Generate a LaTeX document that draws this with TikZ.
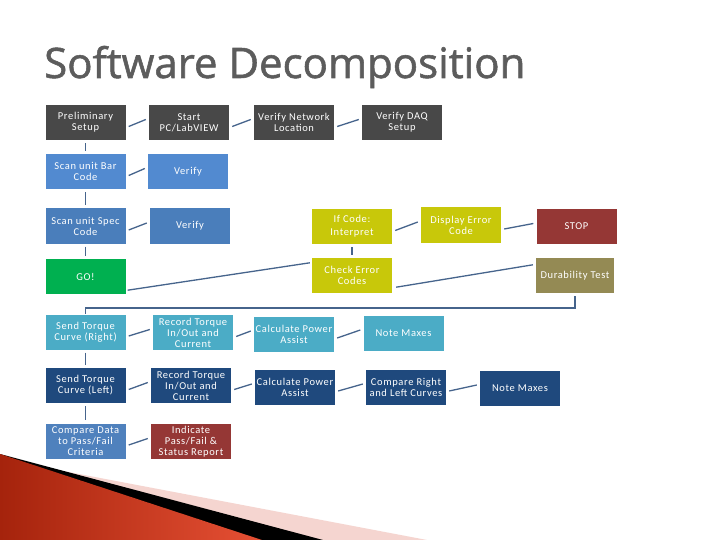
\documentclass[tikz,border=0pt]{standalone}
\usepackage{fontspec}
\setmainfont{Carlito}
\newfontfamily\titlefont[FakeBold=1.3]{Open Sans}
\newfontfamily\boxfont[LetterSpace=6]{Carlito}
\definecolor{cgray}{RGB}{72,72,72}
\definecolor{cblueA}{RGB}{82,138,208}
\definecolor{cblueB}{RGB}{74,126,187}
\definecolor{cyel}{RGB}{200,200,10}
\definecolor{cred}{RGB}{149,55,53}
\definecolor{cgreen}{RGB}{0,176,80}
\definecolor{colive}{RGB}{148,138,84}
\definecolor{cteal}{RGB}{75,172,198}
\definecolor{cnavy}{RGB}{31,73,125}
\definecolor{cblueC}{RGB}{79,129,189}
\definecolor{cline}{RGB}{70,100,140}
\definecolor{ttl}{RGB}{92,92,92}
\definecolor{cpink}{RGB}{245,213,208}
\definecolor{credL}{RGB}{165,35,12}
\definecolor{credR}{RGB}{230,80,52}
\tikzset{
  box/.style={draw=none, text=white, minimum width=80pt, minimum height=35pt,
    inner sep=1pt, align=center, font=\boxfont\fontsize{10.5}{11}\selectfont},
  conn/.style={draw=cline, line width=1.3pt},
}
\newcommand\jn[2]{\draw[conn] ([shift={(3,4)}]#1.east) -- ([shift={(-3,-3)}]#2.west);}
\newcommand\vj[2]{\draw[conn, shorten <=3pt, shorten >=3pt] (#1.south) -- (#2.north);}
\begin{document}
\begin{tikzpicture}[x=1pt,y=-1pt]
\useasboundingbox (0,0) rectangle (720,540);
\fill[white] (0,0) rectangle (720,540);
% bottom decoration
\fill[cpink] (0,459) -- (427,540) -- (0,540) -- cycle;
\fill[black] (0,454) -- (323,540) -- (0,540) -- cycle;
\shade[left color=credL, right color=credR] (0,454) -- (262,540) -- (0,540) -- cycle;
% title
\node[anchor=base west, inner sep=0, text=ttl, font=\titlefont\fontsize{42}{44}\selectfont] (title) at (44,78) {Software Decomposition};
% row 1
\node[box, fill=cgray] (prel) at (85.5,122.5) {Preliminary\\Setup};
\node[box, fill=cgray] (start) at (189,122.5) {Start\\PC/LabVIEW};
\node[box, fill=cgray] (vnet) at (294,122.5) {Verify Network\\Location};
\node[box, fill=cgray] (vdaq) at (402,122.5) {Verify DAQ\\Setup};
% row 2
\node[box, fill=cblueA] (sbar) at (85.5,171.5) {Scan unit Bar\\Code};
\node[box, fill=cblueA] (ver1) at (188,171.5) {Verify};
% row 3
\node[box, fill=cblueB] (sspec) at (85.5,226) {Scan unit Spec\\Code};
\node[box, fill=cblueB] (ver2) at (190,226) {Verify};
\node[box, fill=cyel] (ifc) at (352,226.5) {If Code:\\[2pt]Interpret};
\node[box, fill=cyel] (derr) at (461,225) {Display Error\\Code};
\node[box, fill=cred] (stop) at (576.5,226.5) {STOP};
% row 4
\node[box, fill=cgreen] (go) at (85.5,276.5) {GO!};
\node[box, fill=cyel] (cerr) at (352,275.5) {Check Error\\Codes};
\node[box, fill=colive, minimum width=78pt] (dura) at (575,275.5) {Durability Test};
% row 5
\node[box, fill=cteal] (sendR) at (85.5,332) {Send Torque\\Curve (Right)};
\node[box, fill=cteal] (recR) at (193,332.5) {Record Torque\\In/Out and\\Current};
\node[box, fill=cteal] (calcR) at (294,334) {Calculate Power\\Assist};
\node[box, fill=cteal] (noteR) at (403.5,333) {Note Maxes};
% row 6
\node[box, fill=cnavy] (sendL) at (85.5,385.5) {Send Torque\\Curve (Left)};
\node[box, fill=cnavy] (recL) at (191,385.5) {Record Torque\\In/Out and\\Current};
\node[box, fill=cnavy] (calcL) at (295,387) {Calculate Power\\Assist};
\node[box, fill=cnavy] (cmpRL) at (406,387) {Compare Right\\and Left Curves};
\node[box, fill=cnavy] (noteL) at (520,388) {Note Maxes};
% row 7
\node[box, fill=cblueC] (cmpD) at (85.5,441) {Compare Data\\to Pass/Fail\\Criteria};
\node[box, fill=cred] (ind) at (191,441.5) {Indicate\\Pass/Fail \&\\Status Report};
% short connectors
\jn{prel}{start}
\jn{start}{vnet}
\jn{vnet}{vdaq}
\jn{sbar}{ver1}
\jn{sspec}{ver2}
\jn{ifc}{derr}
\jn{derr}{stop}
\jn{sendR}{recR}
\jn{recR}{calcR}
\jn{calcR}{noteR}
\jn{sendL}{recL}
\jn{recL}{calcL}
\jn{calcL}{cmpRL}
\jn{cmpRL}{noteL}
\jn{cmpD}{ind}
% vertical connectors
\vj{prel}{sbar}
\vj{sbar}{sspec}
\vj{sspec}{go}
\vj{ifc}{cerr}
\vj{sendR}{sendL}
\vj{sendL}{cmpD}
% long connectors
\draw[conn] ([shift={(2,-4)}]go.south east) -- ([shift={(-2,5)}]cerr.north west);
\draw[conn] ([shift={(4,-6)}]cerr.south east) -- ([shift={(-3,7)}]dura.north west);
\draw[conn, line width=1.8pt, shorten <=3pt] (dura.south) -- ++(0,15) -| (sendR.north);
\end{tikzpicture}
\end{document}
